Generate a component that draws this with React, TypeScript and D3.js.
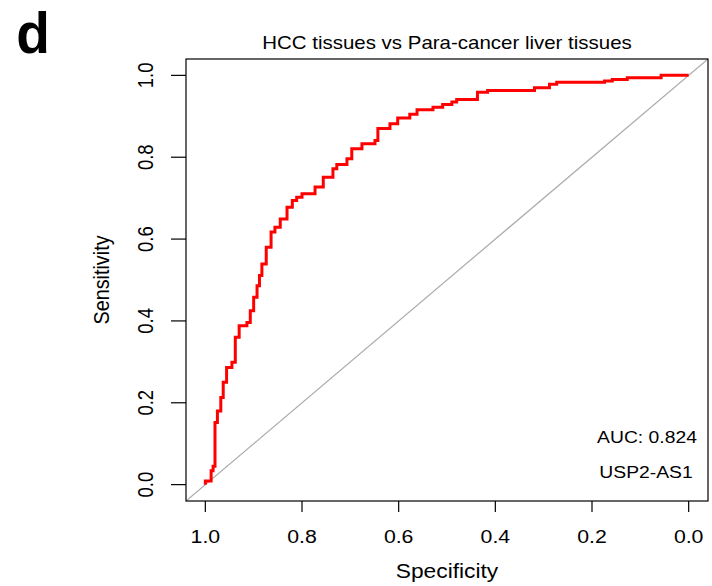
import React from "react";
import * as d3 from "d3";

const specificity = [
  1.0, 1.0, 0.988, 0.984, 0.98, 0.975, 0.968, 0.963, 0.956, 0.945, 0.938, 0.93,
  0.914, 0.907, 0.9, 0.893, 0.888, 0.883, 0.874, 0.864, 0.856, 0.845, 0.831,
  0.82, 0.811, 0.8, 0.773, 0.756, 0.736, 0.728, 0.707, 0.697, 0.676, 0.649,
  0.643, 0.618, 0.602, 0.577, 0.562, 0.529, 0.509, 0.49, 0.48, 0.437, 0.416,
  0.319, 0.288, 0.273, 0.174, 0.158, 0.127, 0.057, 0.0,
];
const sensitivity = [
  0.0, 0.009, 0.034, 0.045, 0.152, 0.18, 0.213, 0.25, 0.286, 0.299, 0.36, 0.388,
  0.396, 0.425, 0.458, 0.486, 0.511, 0.539, 0.58, 0.617, 0.629, 0.649, 0.678,
  0.694, 0.702, 0.711, 0.727, 0.751, 0.772, 0.782, 0.796, 0.821, 0.833, 0.841,
  0.87, 0.882, 0.896, 0.905, 0.916, 0.922, 0.929, 0.935, 0.941, 0.959, 0.963,
  0.97, 0.978, 0.983, 0.986, 0.99, 0.994, 1.0, 1.0,
];
const xTicks = [1.0, 0.8, 0.6, 0.4, 0.2, 0.0];
const yTicks = [0.0, 0.2, 0.4, 0.6, 0.8, 1.0];
const title = "HCC tissues vs Para-cancer liver tissues";
const xLabel = "Specificity";
const yLabel = "Sensitivity";
const aucText = "AUC: 0.824";
const markerText = "USP2-AS1";
const panelLetter = "d";

const W = 712;
const H = 586;
const box = { left: 186, right: 708, top: 59, bottom: 501 };
const FONT = "'Liberation Sans', Arial, Helvetica, sans-serif";
const SX = 1.15;

export default function App() {
  const x = d3.scaleLinear().domain([1.04, -0.04]).range([box.left, box.right]);
  const y = d3.scaleLinear().domain([-0.04, 1.04]).range([box.bottom, box.top]);
  const pts: [number, number][] = specificity.map((s, i) => [s, sensitivity[i]]);
  const line = d3
    .line<[number, number]>()
    .x((d) => x(d[0]))
    .y((d) => y(d[1]))
    .curve(d3.curveStepAfter);
  const fmt = d3.format(".1f");

  const hText = (
    tx: number,
    ty: number,
    txt: string,
    size: number,
    anchor: string = "middle",
    weight: string = "normal",
    sx: number = SX
  ) => (
    <text
      transform={`translate(${tx},${ty}) scale(${sx},1)`}
      fontSize={size}
      fontFamily={FONT}
      textAnchor={anchor}
      fontWeight={weight}
      fill="#000"
    >
      {txt}
    </text>
  );
  const vText = (tx: number, ty: number, txt: string, size: number) => (
    <text
      transform={`translate(${tx},${ty}) scale(${SX},1) rotate(-90)`}
      fontSize={size}
      fontFamily={FONT}
      textAnchor="middle"
      fill="#000"
    >
      {txt}
    </text>
  );

  return (
    <svg
      width={W}
      height={H}
      style={{ position: "absolute", left: 0, top: 0, background: "#fff" }}
    >
      <rect x={0} y={0} width={W} height={H} fill="#fff" />
      {hText(33, 53, panelLetter, 58, "middle", "bold", 0.95)}
      {hText((box.left + box.right) / 2, 49, title, 17.8)}
      <defs>
        <clipPath id="plotclip">
          <rect
            x={box.left}
            y={box.top}
            width={box.right - box.left}
            height={box.bottom - box.top}
          />
        </clipPath>
      </defs>
      <line
        x1={x(1.04)}
        y1={y(-0.04)}
        x2={x(-0.04)}
        y2={y(1.04)}
        stroke="#aaaaaa"
        strokeWidth={1.2}
        clipPath="url(#plotclip)"
      />
      <path
        d={line(pts) || ""}
        fill="none"
        stroke="#ff0000"
        strokeWidth={3}
        strokeLinejoin="miter"
      />
      <rect
        x={box.left}
        y={box.top}
        width={box.right - box.left}
        height={box.bottom - box.top}
        fill="none"
        stroke="#000"
        strokeWidth={1.2}
      />
      {xTicks.map((t) => (
        <g key={"x" + t}>
          <line
            x1={x(t)}
            x2={x(t)}
            y1={box.bottom}
            y2={box.bottom + 11}
            stroke="#000"
            strokeWidth={1.2}
          />
          {hText(x(t), 543, fmt(t), 18.5)}
        </g>
      ))}
      {yTicks.map((t) => (
        <g key={"y" + t}>
          <line
            x1={box.left}
            x2={box.left - 15}
            y1={y(t)}
            y2={y(t)}
            stroke="#000"
            strokeWidth={1.2}
          />
          {vText(153, y(t), fmt(t), 18.5)}
        </g>
      ))}
      {hText((box.left + box.right) / 2, 578, xLabel, 19.8)}
      {vText(109, 280, yLabel, 19.8)}
      {hText(647, 443, aucText, 16.8)}
      {hText(646, 478, markerText, 16.8)}
    </svg>
  );
}
